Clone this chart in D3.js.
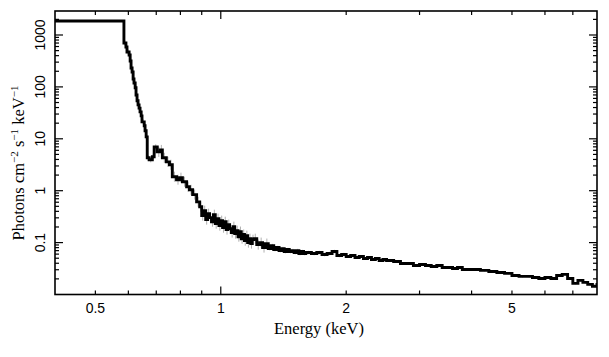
<!DOCTYPE html>
<html><head><meta charset="utf-8">
<script src="https://cdn.jsdelivr.net/npm/d3@7"></script>
<style>body{margin:0;background:#fff}</style>
</head><body><svg id="c" width="609" height="357"></svg>
<script>
// ---- data (keV bin edges, photons cm^-2 s^-1 keV^-1) ----
const binEdges = [0.39,
  0.5855,0.592,0.5955,0.6025,0.606,0.609,0.6125,0.616,0.619,0.623,0.626,0.6295,0.633,0.6366,0.640,0.644,0.647,0.655,0.658,0.662,
  0.666,0.673,0.685,0.692,0.704,0.716,0.724,0.740,0.753,0.765,0.783,0.796,0.809,0.828,0.841,0.856,0.875,
  0.89,0.90,0.91,0.92,0.93,0.94,0.95,0.96,0.97,0.98,0.99,1.00,1.01,1.02,1.03,1.04,1.05,1.06,1.07,1.08,1.09,1.10,1.11,1.12,1.13,1.14,1.15,1.16,1.17,1.18,1.19,
  1.20,1.22,1.24,1.26,1.28,1.30,1.32,1.34,1.36,1.38,1.40,1.42,1.44,1.46,1.48,1.50,1.52,1.54,1.56,1.58,
  1.60,1.65,1.70,1.75,1.80,1.85,1.90,1.95,2.00,2.05,2.10,2.15,2.20,2.25,2.30,2.35,2.40,2.45,
  2.5,2.6,2.7,2.8,2.9,3.0,3.1,3.2,3.3,3.4,3.5,3.6,3.7,3.8,3.9,
  4.0,4.2,4.4,4.6,4.8,5.0,5.2,5.4,5.6,5.8,6.0,6.2,6.4,6.6,6.8,7.0,7.2,7.4,7.6,7.8,8.0,8.2];
const flux = [1858,
  702,588,471,412,316,232,194,142,119,96,70,54,45,39,33,27.7,21.2,17.8,14.3,10.9,
  4.3,3.94,4.5,7.0,5.6,6.1,4.3,3.6,3.16,1.86,1.63,1.78,1.49,1.19,1.04,0.84,0.61,
  0.492,0.331,0.412,0.277,0.361,0.303,0.253,0.345,0.232,0.290,0.212,0.265,0.194,0.253,0.178,0.222,0.186,0.156,0.203,0.149,0.170,0.130,0.163,0.119,0.143,0.109,0.136,0.100,0.119,0.0957,0.114,
  0.119,0.0915,0.1,0.0802,0.0957,0.0767,0.0876,0.0734,0.0802,0.0702,0.0767,0.0672,0.0734,0.0672,0.0702,0.0643,0.0702,0.0615,0.0672,0.0615,
  0.0643,0.0615,0.0643,0.0589,0.0615,0.0672,0.0563,0.0589,0.0539,0.0563,0.0516,0.0539,0.0493,0.0516,0.0472,0.0493,0.0452,0.0472,
  0.0452,0.0432,0.0396,0.0396,0.0362,0.0379,0.0362,0.0347,0.0362,0.0332,0.0332,0.0317,0.0332,0.0304,0.0304,
  0.0304,0.0291,0.0278,0.0266,0.0255,0.0233,0.0223,0.0223,0.0213,0.0204,0.0213,0.0204,0.0233,0.0244,0.0204,0.0164,0.0187,0.0171,0.0157,0.0144,0.0157];
// relative 1-sigma error by energy band [lo, hi, fraction]
const errBands = [[0.585,0.70,0.12],[0.70,0.90,0.25],[0.90,1.30,0.25],[1.30,2.0,0.08],[2.0,9.0,0.05]];

const xDomain = [0.4, 8.0];
const yDomain = [0.01, 2900];
const xLabeledTicks = [0.5, 1, 2, 5];
const xLabels = ["0.5", "1", "2", "5"];
const xDecadeTicks = [1];
const xMinorTicks = [0.5,0.6,0.7,0.8,0.9,2,3,4,5,6,7];
const yDecadeTicks = [0.1, 1, 10, 100, 1000];
const yLabels = ["0.1", "1", "10", "100", "1000"];
const yMinorMult = [2,3,4,5,6,7,8,9];
const xTitle = "Energy (keV)";

// ---- layout ----
const L = 55, R = 597, T = 11, B = 294.5;
const svg = d3.select("#c");
const x = d3.scaleLog().domain(xDomain).range([L, R]);
const y = d3.scaleLog().domain(yDomain).range([B, T]);

svg.append("defs").append("clipPath").attr("id","clip")
  .append("rect").attr("x",L).attr("y",T).attr("width",R-L).attr("height",B-T);

const g = svg.append("g").attr("clip-path","url(#clip)");

// error bars
const bins = flux.map((f,i)=>({lo:binEdges[i], hi:binEdges[i+1], f}));
bins.forEach((b,i)=>{
  if (i===0) return;
  const c = Math.sqrt(b.lo*b.hi);
  const band = errBands.find(e=>c>=e[0] && c<e[1]);
  if (!band) return;
  const fr = band[2];
  g.append("line").attr("x1",x(c)).attr("x2",x(c))
    .attr("y1",y(b.f*(1+fr))).attr("y2",y(b.f/(1+fr)))
    .attr("stroke","#b0b0b0").attr("stroke-width",1);
});

// step line
const pts = [];
bins.forEach(b=>{ pts.push([b.lo,b.f]); pts.push([b.hi,b.f]); });
g.append("path").datum(pts)
  .attr("d", d3.line().x(d=>x(d[0])).y(d=>y(d[1])))
  .attr("fill","none").attr("stroke","#000").attr("stroke-width",2.9)
  .attr("stroke-linejoin","miter");

// frame
svg.append("rect").attr("x",L).attr("y",T).attr("width",R-L).attr("height",B-T)
  .attr("fill","none").attr("stroke","#000").attr("stroke-width",1.6);

const tk = svg.append("g").attr("stroke","#000").attr("stroke-width",1.2);
// x ticks
xMinorTicks.forEach(v=>{
  const px = x(v);
  tk.append("line").attr("x1",px).attr("x2",px).attr("y1",B).attr("y2",B-4);
  tk.append("line").attr("x1",px).attr("x2",px).attr("y1",T).attr("y2",T+4);
});
xDecadeTicks.forEach(v=>{
  const px = x(v);
  tk.append("line").attr("x1",px).attr("x2",px).attr("y1",B).attr("y2",B-8);
  tk.append("line").attr("x1",px).attr("x2",px).attr("y1",T).attr("y2",T+8);
});
// y ticks
yDecadeTicks.forEach(v=>{
  const py = y(v);
  tk.append("line").attr("x1",L).attr("x2",L+8).attr("y1",py).attr("y2",py);
  tk.append("line").attr("x1",R).attr("x2",R-8).attr("y1",py).attr("y2",py);
});
[0.01,0.1,1,10,100,1000].forEach(dec=>{
  yMinorMult.forEach(m=>{
    const v = dec*m;
    if (v<=yDomain[0] || v>=yDomain[1]) return;
    const py = y(v);
    tk.append("line").attr("x1",L).attr("x2",L+4).attr("y1",py).attr("y2",py);
    tk.append("line").attr("x1",R).attr("x2",R-4).attr("y1",py).attr("y2",py);
  });
});

// tick labels
const sans = "'Liberation Sans', Arial, Helvetica, sans-serif";
const serif = "'Liberation Serif', 'Times New Roman', Times, serif";
xLabeledTicks.forEach((v,i)=>{
  svg.append("text").attr("x",x(v)).attr("y",313).attr("text-anchor","middle")
    .attr("font-family",sans).attr("font-size",14).attr("fill","#000").text(xLabels[i]);
});
yDecadeTicks.forEach((v,i)=>{
  svg.append("text").attr("transform",`translate(45,${y(v)}) rotate(-90)`)
    .attr("text-anchor","middle").attr("font-family",sans).attr("font-size",14)
    .attr("fill","#000").text(yLabels[i]);
});

// axis titles
svg.append("text").attr("x",319).attr("y",334).attr("text-anchor","middle")
  .attr("font-family",serif).attr("font-size",16.5).attr("fill","#000").text(xTitle);

const yt = svg.append("text").attr("transform","translate(24,163) rotate(-90)")
  .attr("text-anchor","middle").attr("font-family",serif).attr("font-size",16.5)
  .attr("fill","#000").style("white-space","pre");
yt.append("tspan").text("Photons cm");
yt.append("tspan").attr("dy",-6).attr("font-size",11).text("\u22122");
yt.append("tspan").attr("dy",6).text(" s");
yt.append("tspan").attr("dy",-6).attr("font-size",11).text("\u22121");
yt.append("tspan").attr("dy",6).text(" keV");
yt.append("tspan").attr("dy",-6).attr("font-size",11).text("\u22121");
</script></body></html>
